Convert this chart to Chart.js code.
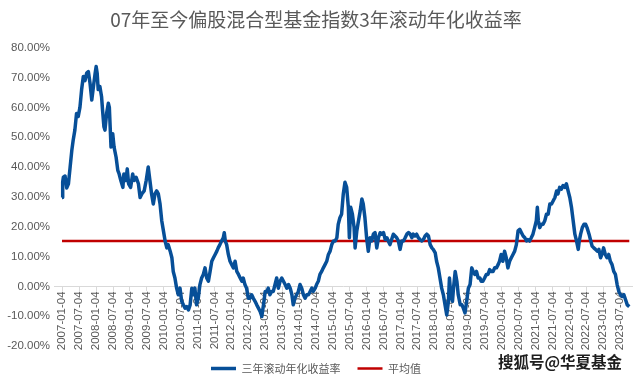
<!DOCTYPE html>
<html><head><meta charset="utf-8">
<script src="https://cdn.jsdelivr.net/npm/chart.js@4.4.0/dist/chart.umd.min.js"></script>
<style>html,body{margin:0;padding:0;background:#fff;}#wrap{width:637px;height:381px;position:relative;}</style>
</head><body><div id="wrap"><canvas id="c" width="637" height="381"></canvas></div>
<script>
const chartTitle = '07年至今偏股混合型基金指数3年滚动年化收益率';
const seriesName = '三年滚动年化收益率';
const avgName = '平均值';
const watermarkText = '搜狐号@华夏基金';
const avgValue = 15.2;
const tickLabels = ['2007-01-04','2007-07-04','2008-01-04','2008-07-04','2009-01-04','2009-07-04','2010-01-04','2010-07-04','2011-01-04','2011-07-04','2012-01-04','2012-07-04','2013-01-04','2013-07-04','2014-01-04','2014-07-04','2015-01-04','2015-07-04','2016-01-04','2016-07-04','2017-01-04','2017-07-04','2018-01-04','2018-07-04','2019-01-04','2019-07-04','2020-01-04','2020-07-04','2021-01-04','2021-07-04','2022-01-04','2022-07-04','2023-01-04','2023-07-04'];
// time in decimal years
const t = [2007.00,2007.02,2007.04,2007.09,2007.14,2007.19,2007.24,2007.29,2007.33,2007.38,2007.43,2007.48,2007.53,2007.58,2007.63,2007.68,2007.73,2007.78,2007.83,2007.88,2007.93,2007.98,
2008.01,2008.04,2008.07,2008.12,2008.17,2008.20,2008.24,2008.27,2008.32,2008.37,2008.40,2008.42,2008.45,2008.50,2008.54,2008.60,2008.65,2008.69,2008.74,2008.80,2008.83,2008.89,2008.93,2008.97,
2009.03,2009.09,2009.13,2009.19,2009.26,2009.31,2009.36,2009.43,2009.49,2009.55,2009.60,2009.65,2009.70,2009.75,2009.80,2009.85,2009.90,2009.95,
2010.00,2010.05,2010.10,2010.14,2010.20,2010.25,2010.29,2010.34,2010.39,2010.44,2010.49,2010.54,2010.59,2010.64,2010.69,2010.74,2010.79,2010.84,2010.88,2010.93,2010.98,
2011.03,2011.08,2011.13,2011.18,2011.23,2011.28,2011.33,2011.38,2011.43,2011.48,2011.53,2011.58,2011.62,2011.67,2011.72,2011.77,2011.80,2011.83,2011.87,2011.92,2011.97,
2012.02,2012.07,2012.12,2012.17,2012.22,2012.27,2012.32,2012.36,2012.41,2012.46,2012.51,2012.56,2012.61,2012.66,2012.71,2012.76,2012.81,2012.86,2012.91,2012.96,
2013.01,2013.06,2013.10,2013.15,2013.20,2013.25,2013.30,2013.35,2013.40,2013.45,2013.50,2013.55,2013.60,2013.65,2013.70,2013.75,2013.80,2013.84,2013.89,2013.94,2013.99,
2014.04,2014.09,2014.14,2014.19,2014.24,2014.29,2014.34,2014.39,2014.43,2014.49,2014.53,2014.58,2014.63,2014.68,2014.73,2014.78,2014.83,2014.88,2014.93,2014.98,
2015.03,2015.08,2015.13,2015.17,2015.22,2015.27,2015.32,2015.37,2015.42,2015.47,2015.50,2015.54,2015.59,2015.64,2015.67,2015.72,2015.77,2015.82,2015.87,2015.91,2015.96,
2016.01,2016.06,2016.11,2016.16,2016.21,2016.26,2016.31,2016.36,2016.41,2016.46,2016.51,2016.56,2016.61,2016.65,2016.70,2016.75,2016.80,2016.85,2016.90,2016.95,
2017.00,2017.05,2017.10,2017.15,2017.20,2017.25,2017.30,2017.35,2017.39,2017.44,2017.49,2017.54,2017.59,2017.64,2017.69,2017.74,2017.79,2017.84,2017.89,2017.94,2017.98,
2018.04,2018.08,2018.13,2018.18,2018.23,2018.28,2018.33,2018.38,2018.43,2018.46,2018.50,2018.55,2018.58,2018.63,2018.68,2018.72,2018.78,2018.83,2018.87,2018.92,2018.97,
2019.02,2019.07,2019.12,2019.16,2019.21,2019.26,2019.31,2019.36,2019.40,2019.45,2019.50,2019.55,2019.60,2019.65,2019.70,2019.75,2019.80,2019.85,2019.90,2019.94,2019.99,
2020.04,2020.09,2020.14,2020.19,2020.24,2020.29,2020.34,2020.39,2020.44,2020.49,2020.54,2020.59,2020.64,2020.69,2020.74,2020.78,2020.83,2020.88,2020.93,2020.98,
2021.03,2021.06,2021.09,2021.13,2021.18,2021.23,2021.28,2021.33,2021.38,2021.43,2021.48,2021.53,2021.58,2021.63,2021.67,2021.72,2021.77,2021.82,2021.87,2021.92,2021.97,
2022.02,2022.07,2022.12,2022.17,2022.22,2022.27,2022.30,2022.34,2022.39,2022.44,2022.49,2022.53,2022.59,2022.64,2022.68,2022.73,2022.78,2022.83,2022.88,2022.93,2022.97,
2023.02,2023.07,2023.12,2023.17,2023.22,2023.27,2023.32,2023.37,2023.42,2023.47,2023.52,2023.57,2023.62,2023.67,2023.72,2023.78];
// 3-year rolling annualized return, %
const ret = [29.8,35,36.6,37,33,34.4,40,45.6,49,52.4,58,57,60,66,70.4,69,71.5,72,68,62.5,67,71.5,
73.7,71.5,66,67,63.6,59,53.5,52.4,58,61.4,60,54.6,46.7,51.2,46.7,43.3,38.9,37.7,35.5,33.2,37.7,35.5,39.4,34.4,
33.2,37.7,35.5,36.6,34.4,29.8,31,32,35.5,40,35.5,31,27.6,31,32,31,27.6,22,
18.6,15.2,12.9,14,11.8,9.6,5,2.8,-0.6,-2.8,-0.6,-5,-6.2,-7.3,-6.8,-7.9,-6.2,-0.6,-2.8,-0.6,-6.2,
-4,0.6,2.8,4,6.2,2.8,1.7,5,8.4,9.6,10.7,11.8,12.9,14,15.2,16.3,18,15.2,14,10.7,8.4,
7.3,6.2,8.4,5,4,2.8,1.7,2.8,0.6,-0.6,-4,-4,-2.8,-4,-5,-6.2,-7.3,-8.4,-10.1,-6.2,
-1.7,-1.7,-0.6,-2.8,-1.7,-1.7,0.6,2.8,-0.6,1.7,2.8,1.7,0.6,-0.6,0.6,-0.6,-2.8,-6.2,-4,-2.8,-1.7,
0.6,-0.6,-2.8,-4,-2.8,-2.8,-1.7,-0.6,-1.7,-0.6,0.6,1.7,4,5,6.2,7.3,8.4,10.7,11.8,14,
15.2,15.2,16.3,20.8,23,24.2,31,34.9,33.2,26.5,16.3,26.5,24.2,19.7,12.9,18.6,22,25.3,29.3,27.6,23,
16.3,11.8,16.3,15.2,17.5,18,12.9,16.3,18,17.5,18,15.7,16.3,15.2,14,15.7,17.5,16.9,16.3,15.2,
12.4,15.2,15.2,16.3,17.5,18,17.5,16.3,17.5,16.9,17.5,16.3,15.7,15.2,15.7,16.9,17.5,16.9,14,12.9,12.4,
11.2,8.4,6.2,2.8,-0.6,-2.8,-6.2,-9.6,-5,2.8,-2.8,-5,-0.6,5,1.7,-2.8,-6.2,-6.2,-7.3,-8.9,-5,
-0.6,0.6,6.2,5,4,5,2.8,2.8,1.7,1.7,2.8,4,4,5.6,5,5,6.2,6.2,7.3,8.4,10.7,
8.4,11.8,9.6,6.2,8.4,9.6,10.7,11.8,14,18.6,19.1,18,16.9,16.3,15.2,15.7,15.2,16.3,17.5,19.7,
22,26.5,22,19.7,20.8,20.8,22,24.2,24.2,27.6,27.6,28.7,29.8,32,31,33.2,32.6,33.8,33.2,34.4,32,
29.8,26.5,22,17.5,15.2,12.4,15.2,17.5,19.7,20.8,20.8,19.7,17.5,15.2,13.5,12.9,12.4,11.8,12.4,9.6,10.7,
12.9,10.7,9.6,10.7,8.4,7.3,5,4,0.6,-1.7,-2.8,-3.4,-2.8,-4.5,-6.2,-6.8];

const tickPos = tickLabels.map(s => {
  const [y, m, d] = s.split('-').map(Number);
  return y + (m - 1) / 12 + (d - 1) / 365;
});
const mainData = t.map((x, i) => ({x: x, y: ret[i]}));
const avgData = [{x: t[0], y: avgValue}, {x: t[t.length - 1], y: avgValue}];

const BLUE = '#074F98';
const RED = '#C00000';
const GRAY = '#595959';

const watermarkPlugin = {
  id: 'watermark',
  afterDraw(chart) {
    const ctx = chart.ctx;
    ctx.save();
    ctx.font = 'bold 15.5px "Noto Sans CJK SC"';
    ctx.textAlign = 'right';
    ctx.textBaseline = 'middle';
    ctx.lineWidth = 3;
    ctx.strokeStyle = '#ffffff';
    ctx.strokeText(watermarkText, 622, 362);
    ctx.fillStyle = '#1e1e1e';
    ctx.fillText(watermarkText, 622, 362);
    ctx.restore();
  }
};

new Chart(document.getElementById('c'), {
  type: 'line',
  data: {
    datasets: [
      {label: seriesName, data: mainData, borderColor: BLUE, backgroundColor: BLUE, borderWidth: 3.5, pointRadius: 0, tension: 0, borderJoinStyle: 'round', order: 1},
      {label: avgName, data: avgData, borderColor: RED, backgroundColor: RED, borderWidth: 2.5, pointRadius: 0, tension: 0, order: 2}
    ]
  },
  options: {
    responsive: false,
    animation: false,
    devicePixelRatio: 1,
    layout: {padding: {left: 0, right: 5, top: 0, bottom: -3}},
    plugins: {
      title: {display: true, text: chartTitle, color: GRAY, font: {family: '"Noto Sans CJK SC"', size: 19, weight: 'normal'}, padding: {top: 8, bottom: 17}},
      legend: {display: true, position: 'bottom', labels: {usePointStyle: true, pointStyle: 'line', pointStyleWidth: 25, padding: 17, color: GRAY, font: {family: '"Noto Sans CJK SC"', size: 11}}},
      tooltip: {enabled: false}
    },
    scales: {
      x: {
        type: 'linear',
        position: {y: 0},
        min: 2006.763, max: 2023.86,
        afterBuildTicks: (s) => { s.ticks = tickPos.map(v => ({value: v})); },
        ticks: {autoSkip: false, maxRotation: 90, minRotation: 90, padding: 1, color: GRAY, font: {family: '"Liberation Sans"', size: 11.5}, callback: (v, i) => tickLabels[i]},
        grid: {display: true, drawOnChartArea: false, drawTicks: true, tickLength: 4, color: '#d9d9d9'},
        border: {display: true, color: '#d9d9d9', width: 1}
      },
      y: {
        min: -20, max: 80,
        afterFit: (s) => { s.width = 54; },
        ticks: {stepSize: 10, padding: 4, color: GRAY, font: {family: '"Liberation Sans"', size: 11.5}, callback: (v) => v.toFixed(2) + '%'},
        grid: {display: false, drawTicks: false},
        border: {display: false}
      }
    }
  },
  plugins: [watermarkPlugin]
});
</script></body></html>
